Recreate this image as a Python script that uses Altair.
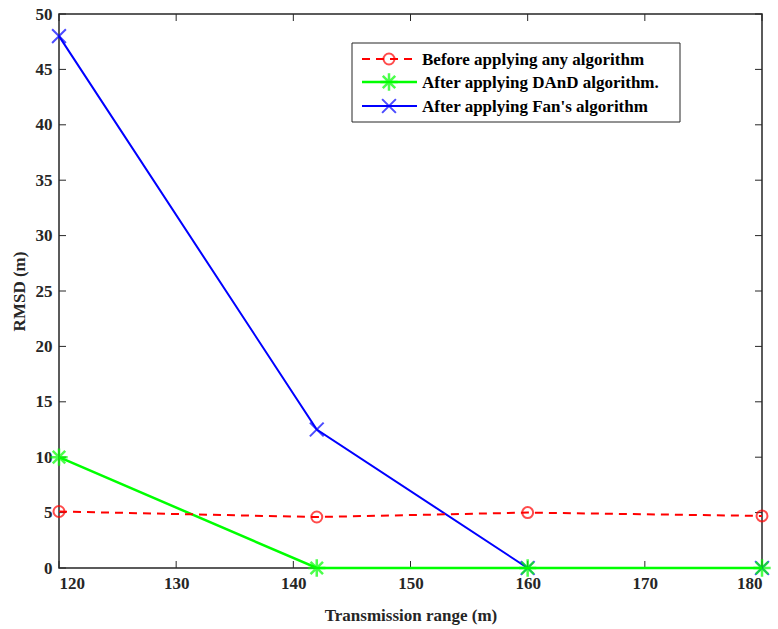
import altair as alt
import pandas as pd

# Transmission range (m) and RMSD (m) for each method
ranges = [120, 142, 160, 180]
rmsd_before = [5.1, 4.6, 5.0, 4.7]
rmsd_dand = [10.0, 0.0, 0.0, 0.0]
rmsd_fan = [48.0, 12.5, 0.0, 0.0]

series_names = [
    "Before applying any algorithm",
    "After applying DAnD algorithm.",
    "After applying Fan's algorithm",
]
series_colors = ["#ff0000", "#00ff00", "#0000ff"]

x_ticks = [120, 130, 140, 150, 160, 170, 180]
y_ticks = [0, 5, 10, 15, 20, 25, 30, 35, 40, 45, 50]

W, H = 703, 554
FONT = "Liberation Serif"
INK = "#262626"
FS = 17

X_SHAPE = "M-1,-1L1,1M-1,1L1,-1"
STAR_SHAPE = "M0,-1L0,1M-1,0L1,0M-0.72,-0.72L0.72,0.72M-0.72,0.72L0.72,-0.72"

def frame(values):
    return pd.DataFrame({"range": ranges, "rmsd": values})

x_enc = alt.X(
    "range:Q",
    scale=alt.Scale(domain=[120, 180], nice=False, zero=False),
    axis=alt.Axis(values=x_ticks, title="Transmission range (m)", ticks=False,
                  domain=False, grid=False, labelPadding=7, titlePadding=16),
)
y_enc = alt.Y(
    "rmsd:Q",
    scale=alt.Scale(domain=[0, 50], nice=False),
    axis=alt.Axis(values=y_ticks, title="RMSD (m)", ticks=False, domain=False,
                  grid=False, labelPadding=7, titlePadding=7),
)

# Series lines and markers
blue_line = alt.Chart(frame(rmsd_fan)).mark_line(color="#0000ff", strokeWidth=2).encode(x=x_enc, y=y_enc)
blue_pts = alt.Chart(frame(rmsd_fan)).mark_point(
    shape=X_SHAPE, size=190, color="#0000ff", strokeWidth=2, filled=False
).encode(x="range:Q", y="rmsd:Q")

green_line = alt.Chart(frame(rmsd_dand)).mark_line(color="#00ff00", strokeWidth=2.5).encode(x="range:Q", y="rmsd:Q")
green_pts = alt.Chart(frame(rmsd_dand)).mark_point(
    shape=STAR_SHAPE, size=300, color="#00ff00", strokeWidth=2.5, filled=False
).encode(x="range:Q", y="rmsd:Q")

red_line = alt.Chart(frame(rmsd_before)).mark_line(
    color="#ff0000", strokeWidth=2, strokeDash=[8, 6]
).encode(x="range:Q", y="rmsd:Q")
red_pts = alt.Chart(frame(rmsd_before)).mark_point(
    shape="circle", size=120, color="#ff0000", strokeWidth=2, filled=False
).encode(x="range:Q", y="rmsd:Q")

# Inward tick marks on all four sides
xt = pd.DataFrame({"t": x_ticks})
yt = pd.DataFrame({"t": y_ticks})
tick_style = dict(color=INK, strokeWidth=1)
ticks = [
    alt.Chart(xt).mark_rule(**tick_style).encode(x="t:Q", y=alt.value(H), y2=alt.value(H - 7)),
    alt.Chart(xt).mark_rule(**tick_style).encode(x="t:Q", y=alt.value(0), y2=alt.value(7)),
    alt.Chart(yt).mark_rule(**tick_style).encode(y="t:Q", x=alt.value(0), x2=alt.value(7)),
    alt.Chart(yt).mark_rule(**tick_style).encode(y="t:Q", x=alt.value(W), x2=alt.value(W - 7)),
]

# Legend box
one = pd.DataFrame({"k": [0]})
legend_layers = [
    alt.Chart(one).mark_rect(fill="white", stroke=INK, strokeWidth=1).encode(
        x=alt.value(293), x2=alt.value(621), y=alt.value(29), y2=alt.value(108)
    )
]
row_y = [45, 68, 92]
marker_specs = [
    dict(shape="circle", size=120, strokeWidth=2),
    dict(shape=STAR_SHAPE, size=300, strokeWidth=2.5),
    dict(shape=X_SHAPE, size=190, strokeWidth=2),
]
for name, color, ry, mk in zip(series_names, series_colors, row_y, marker_specs):
    row = pd.DataFrame({"name": [name]})
    rule_kw = dict(color=color, strokeWidth=2.5 if color == "#00ff00" else 2)
    if color == "#ff0000":
        rule_kw["strokeDash"] = [8, 6]
    legend_layers.append(
        alt.Chart(row).mark_rule(**rule_kw).encode(
            x=alt.value(303), x2=alt.value(358), y=alt.value(ry), y2=alt.value(ry)
        )
    )
    legend_layers.append(
        alt.Chart(row).mark_point(color=color, filled=False, **mk).encode(
            x=alt.value(330), y=alt.value(ry)
        )
    )
    legend_layers.append(
        alt.Chart(row).mark_text(
            align="left", baseline="middle", font=FONT, fontWeight="bold",
            fontSize=FS, color="black"
        ).encode(x=alt.value(363), y=alt.value(ry + 1), text="name:N")
    )

chart = alt.layer(
    blue_line, *ticks, blue_pts, green_line, green_pts, red_line, red_pts, *legend_layers
).properties(
    width=W, height=H, autosize=alt.AutoSizeParams(type="none"),
    padding={"left": 59, "top": 14, "right": 16, "bottom": 61},
).configure(
    background="white"
).configure_view(
    stroke=INK, strokeWidth=1.5
).configure_axis(
    labelFont=FONT, labelFontSize=FS, labelFontWeight="bold", labelColor=INK,
    titleFont=FONT, titleFontSize=FS, titleFontWeight="bold", titleColor=INK,
)

chart.save("out.html", embed_options={"renderer": "svg", "actions": False})
